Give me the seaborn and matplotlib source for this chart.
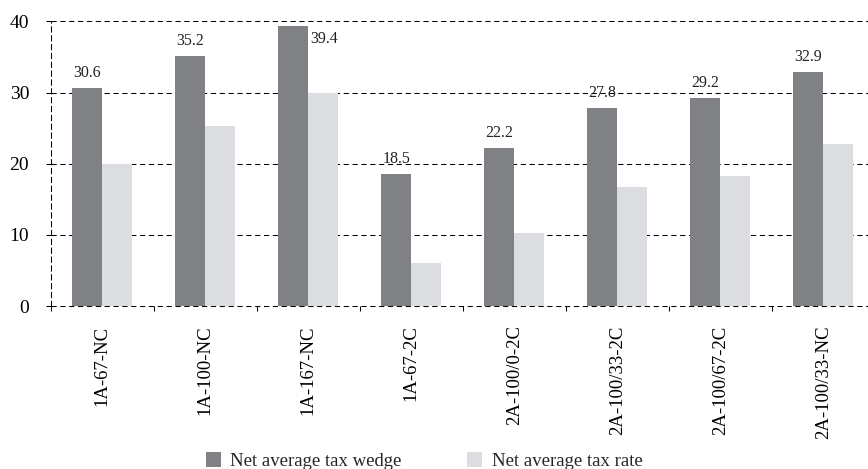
import numpy as np
import pandas as pd
import matplotlib
matplotlib.use("Agg")
import matplotlib.pyplot as plt
from matplotlib.patches import Patch
from matplotlib.ticker import FixedLocator
import seaborn as sns

# Données
scenarios = ["1A-67-NC", "1A-100-NC", "1A-167-NC", "1A-67-2C",
             "2A-100/0-2C", "2A-100/33-2C", "2A-100/67-2C", "2A-100/33-NC"]
tax_wedge = [30.6, 35.2, 39.4, 18.5, 22.2, 27.8, 29.2, 32.9]
tax_rate = [20.0, 25.3, 30.0, 6.0, 10.3, 16.7, 18.3, 22.8]
series_names = ["Net average tax wedge", "Net average tax rate"]
colors = ["#808185", "#dcdde0"]
y_ticks = [0, 10, 20, 30, 40]

df = pd.DataFrame({
    "scenario": scenarios * 2,
    "value": tax_wedge + tax_rate,
    "serie": [series_names[0]] * len(scenarios) + [series_names[1]] * len(scenarios),
})

sns.set_style("white")
plt.rcParams["font.family"] = ["Liberation Serif", "DejaVu Serif"]

fig = plt.figure(figsize=(8.68, 4.69), dpi=100)
ax = fig.add_axes([50.6 / 868, 1 - 306 / 469, 1 - 50.6 / 868, (306 - 21.5) / 469])

sns.barplot(data=df, x="scenario", y="value", hue="serie", order=scenarios,
            hue_order=series_names, palette=colors, saturation=1, width=0.58,
            linewidth=0, ax=ax)

ax.get_legend().remove()
ax.set_xlabel("")
ax.set_ylabel("")
ax.set_ylim(0, 40)
ax.set_xlim(-0.5, 7.435)
ax.set_yticks(y_ticks)

dash = (0, (5, 3.5))
ax.set_axisbelow(True)
ax.yaxis.grid(True, color="black", linestyle=dash, linewidth=0.75)
for gl in ax.get_ygridlines():
    gl.set_clip_on(False)
for s in ["top", "right", "bottom"]:
    ax.spines[s].set_visible(False)
ax.spines["left"].set_linestyle(dash)
ax.spines["left"].set_linewidth(0.75)
ax.spines["left"].set_color("black")

# ticks
ax.tick_params(axis="y", left=True, length=3.5, width=0.75, pad=12,
               labelsize=14, colors="black")
ax.tick_params(axis="x", which="major", length=0, pad=14, labelsize=13.5,
               labelrotation=90, colors="black")
ax.xaxis.set_minor_locator(FixedLocator(np.arange(-0.5, len(scenarios), 1.0)))
ax.tick_params(axis="x", which="minor", bottom=True, length=3.5, width=0.75,
               color="black")

# étiquettes au-dessus des barres foncées
for i, bar in enumerate(ax.containers[0]):
    h = bar.get_height()
    if i == 2:
        ax.annotate(f"{h:.1f}", (bar.get_x() + bar.get_width(), h),
                    xytext=(1.5, -4), textcoords="offset points",
                    ha="left", va="top", fontsize=11.5, color="#222222")
    else:
        ax.annotate(f"{h:.1f}", (bar.get_x() + bar.get_width() / 2, h),
                    xytext=(0, 5), textcoords="offset points",
                    ha="center", va="bottom", fontsize=11.5, color="#222222")

handles = [Patch(facecolor=c, edgecolor="none") for c in colors]
fig.legend(handles, series_names, loc="center", bbox_to_anchor=(0.4885, 0.017),
           ncol=2, frameon=False, fontsize=13.5, handlelength=0.8,
           handleheight=0.8, handletextpad=0.5, columnspacing=3.5,
           borderaxespad=0, borderpad=0)

fig.savefig("out.png", dpi=100)
